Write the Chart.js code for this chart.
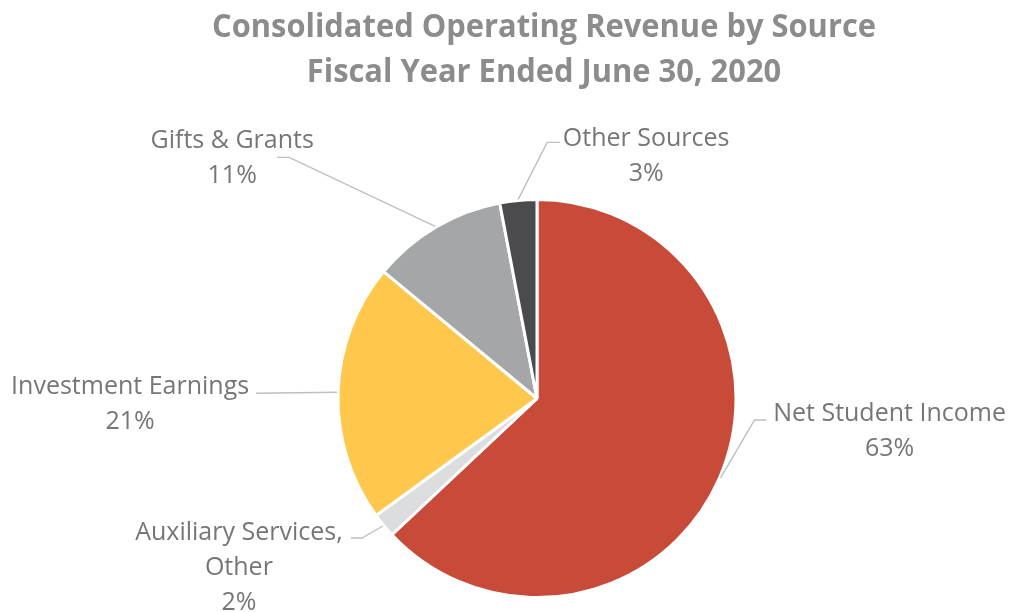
<!DOCTYPE html>
<html>
<head>
<meta charset="utf-8">
<script src="https://cdn.jsdelivr.net/npm/chart.js@4"></script>
<style>
  html, body { margin: 0; padding: 0; background: #fff; }
  #wrap { width: 1011px; height: 612px; }
</style>
</head>
<body>
<div id="wrap"><canvas id="revenueChart" width="1011" height="612"></canvas></div>
<script>
const titleLines = ['Consolidated Operating Revenue by Source', 'Fiscal Year Ended June 30, 2020'];
const categories = ['Net Student Income', 'Auxiliary Services, Other', 'Investment Earnings', 'Gifts & Grants', 'Other Sources'];
const labelLines = [['Net Student Income'], ['Auxiliary Services,', 'Other'], ['Investment Earnings'], ['Gifts & Grants'], ['Other Sources']];
const shares = [63, 2, 21, 11, 3];
const sliceColors = ['#C84B3A', '#DCDDDF', '#FFC84C', '#A5A6A8', '#4B4B4D'];

// where each label sits, relative to the slice's outer mid point
const labelLayout = [
    { dx: 169, dy: -48, ax: -123, ay: -10, elbow: -12 },
    { dx: -144, dy: 40, ax: 112, ay: -28, elbow: 11 },
    { dx: -207, dy: 10, ax: 126, ay: -9, elbow: 0 },
    { dx: -203, dy: -70, ax: 45, ay: 1, elbow: 12 },
    { dx: 128, dy: -45, ax: -86, ay: -12, elbow: -13 },
];

const titlePlugin = {
    id: 'titlePlugin',
    afterDraw(chart) {
        const ctx = chart.ctx;
        ctx.save();
        ctx.fillStyle = '#8C8C8E';
        ctx.font = 'bold 32px "Open Sans"';
        ctx.textBaseline = 'alphabetic';
        ctx.textAlign = 'center';
        const scale = 664 / ctx.measureText(titleLines[0]).width;
        const baselines = [37, 82];
        titleLines.forEach((line, i) => {
            ctx.save();
            ctx.translate(544, baselines[i]);
            ctx.scale(scale, 1);
            ctx.fillText(line, 0, 0);
            ctx.restore();
        });
        ctx.restore();
    }
};

const labelPlugin = {
    id: 'labelPlugin',
    afterDatasetsDraw(chart) {
        const ctx = chart.ctx;
        const meta = chart.getDatasetMeta(0);
        const lineHeight = 35;
        ctx.save();
        meta.data.forEach((arc, i) => {
            const p = arc.getProps(['x', 'y', 'startAngle', 'endAngle', 'outerRadius'], true);
            const mid = (p.startAngle + p.endAngle) / 2;
            const r = p.outerRadius + 1;
            const px = p.x + Math.cos(mid) * r;
            const py = p.y + Math.sin(mid) * r;
            const lay = labelLayout[i];
            const cx = px + lay.dx;
            const cy = py + lay.dy;
            const attachX = cx + lay.ax;
            const attachY = cy + lay.ay;

            // leader line
            ctx.strokeStyle = '#BFBFBF';
            ctx.lineWidth = 1.4;
            ctx.beginPath();
            ctx.moveTo(attachX, attachY);
            if (lay.elbow !== 0) ctx.lineTo(attachX + lay.elbow, attachY);
            ctx.lineTo(px, py);
            ctx.stroke();

            // label text
            const lines = labelLines[i].concat([shares[i] + '%']);
            ctx.fillStyle = '#767676';
            ctx.font = '25px "Open Sans"';
            ctx.textAlign = 'center';
            ctx.textBaseline = 'alphabetic';
            lines.forEach((t, j) => {
                const middle = cy + (j - (lines.length - 1) / 2) * lineHeight;
                ctx.fillText(t, cx, middle + 9);
            });
        });
        ctx.restore();
    }
};

const ctx = document.getElementById('revenueChart').getContext('2d');
const revenueChart = new Chart(ctx, {
    type: 'pie',
    data: {
        labels: categories,
        datasets: [{
            data: shares,
            backgroundColor: sliceColors,
            borderColor: '#FFFFFF',
            borderWidth: 3,
        }],
    },
    options: {
        responsive: false,
        animation: false,
        layout: {
            padding: { top: 198, bottom: 13, left: 336, right: 273 },
        },
        plugins: {
            legend: { display: false },
            title: { display: false },
            tooltip: { enabled: false },
        },
    },
    plugins: [labelPlugin, titlePlugin],
});
</script>
</body>
</html>
